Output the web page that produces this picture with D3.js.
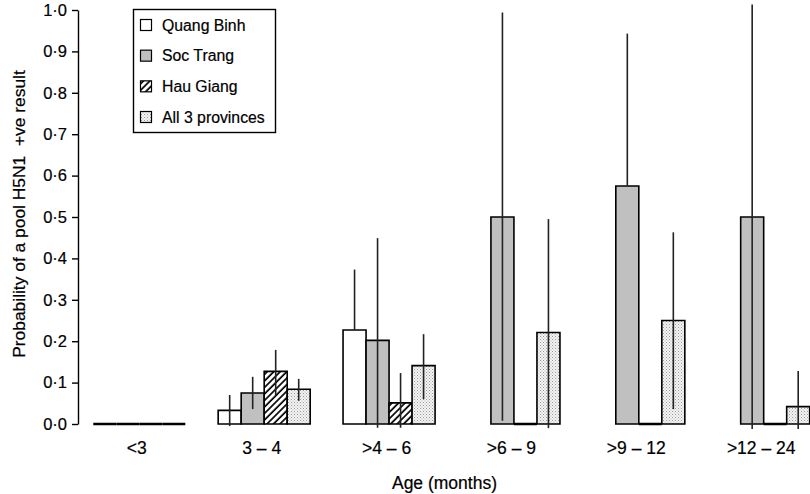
<!DOCTYPE html>
<html>
<head>
<meta charset="utf-8">
<script src="https://cdn.jsdelivr.net/npm/d3@7"></script>
<style>
  html, body { margin: 0; padding: 0; background: #fff; }
  svg { display: block; font-family: "Liberation Sans", Arial, Helvetica, sans-serif; }
  svg text { stroke: #000; stroke-width: 0.2px; }
</style>
</head>
<body>
<svg id="chart" width="810" height="494"></svg>
<script>
// ---- data ----
const categories = ["<3", "3 – 4", ">4 – 6", ">6 – 9", ">9 – 12", ">12 – 24"];
const seriesNames = ["Quang Binh", "Soc Trang", "Hau Giang", "All 3 provinces"];

const quangBinh      = [0, 0.033, 0.227, null, null, null];
const quangBinhLow   = [null, -0.005, 0.227, null, null, null];
const quangBinhHigh  = [null, 0.070, 0.373, null, null, null];

const socTrang       = [0, 0.075, 0.202, 0.500, 0.575, 0.500];
const socTrangLow    = [null, 0.036, -0.009, 0.008, 0.575, -0.012];
const socTrangHigh   = [null, 0.114, 0.449, 0.994, 0.943, 1.013];

const hauGiang       = [0, 0.127, 0.051, 0, 0, 0];
const hauGiangLow    = [null, 0.070, -0.009, null, null, null];
const hauGiangHigh   = [null, 0.179, 0.123, null, null, null];

const allProvinces     = [0, 0.084, 0.141, 0.221, 0.250, 0.042];
const allProvincesLow  = [null, 0.056, 0.060, -0.010, 0.036, -0.012];
const allProvincesHigh = [null, 0.109, 0.217, 0.495, 0.463, 0.128];

const yTicks = [0, 0.1, 0.2, 0.3, 0.4, 0.5, 0.6, 0.7, 0.8, 0.9, 1.0];
const yTitle = "Probability of a pool H5N1  +ve result";
const xTitle = "Age (months)";

// ---- build ----
const values = [quangBinh, socTrang, hauGiang, allProvinces];
const lows   = [quangBinhLow, socTrangLow, hauGiangLow, allProvincesLow];
const highs  = [quangBinhHigh, socTrangHigh, hauGiangHigh, allProvincesHigh];
const fills  = ["#ffffff", "#c0c0c0", "url(#hatch)", "url(#stipple)"];

const svg = d3.select("#chart");
const defs = svg.append("defs");

const hatch = defs.append("pattern").attr("id", "hatch")
  .attr("patternUnits", "userSpaceOnUse").attr("width", 4.6).attr("height", 4.6)
  .attr("patternTransform", "rotate(45)");
hatch.append("rect").attr("width", 4.6).attr("height", 4.6).attr("fill", "#fff");
hatch.append("line").attr("x1", 1).attr("x2", 1).attr("y1", 0).attr("y2", 4.6)
  .attr("stroke", "#000").attr("stroke-width", 1.7);

const stip = defs.append("pattern").attr("id", "stipple")
  .attr("patternUnits", "userSpaceOnUse").attr("width", 3).attr("height", 3);
stip.append("rect").attr("width", 3).attr("height", 3).attr("fill", "#f4f4f4");
stip.append("rect").attr("x", 0).attr("y", 0).attr("width", 1).attr("height", 1).attr("fill", "#9a9a9a");
stip.append("rect").attr("x", 1.5).attr("y", 1.5).attr("width", 1).attr("height", 1).attr("fill", "#b0b0b0");

const x = d3.scaleBand().domain(categories).range([93.3, 809.7]).paddingInner(0.263).paddingOuter(0);
const xs = d3.scaleBand().domain(seriesNames).range([0, x.bandwidth()]).padding(0);
const y = d3.scaleLinear().domain([0, 1]).range([424, 10]);

// bars
const rows = [];
categories.forEach((c, ci) => {
  seriesNames.forEach((s, si) => {
    const v = values[si][ci];
    if (v === null || v === undefined) return;
    rows.push({ c, s, si, v, lo: lows[si][ci], hi: highs[si][ci] });
  });
});

const barG = svg.append("g");
barG.selectAll("path.bar").data(rows).join("path")
  .attr("class", "bar")
  .attr("d", d => {
    const x0 = x(d.c) + xs(d.s), x1 = x0 + xs.bandwidth();
    const y0 = y(0), y1 = y(d.v);
    return `M${x0},${y0}V${y1}H${x1}V${y0}Z`;
  })
  .attr("fill", d => fills[d.si])
  .attr("stroke", "#000")
  .attr("stroke-width", d => d.v === 0 ? 2.3 : 1.6)
  .attr("stroke-linejoin", "miter");

// error bars
svg.append("g").selectAll("line.err").data(rows.filter(d => d.lo !== null && d.hi !== null)).join("line")
  .attr("class", "err")
  .attr("x1", d => x(d.c) + xs(d.s) + xs.bandwidth() / 2)
  .attr("x2", d => x(d.c) + xs(d.s) + xs.bandwidth() / 2)
  .attr("y1", d => y(d.lo))
  .attr("y2", d => y(d.hi))
  .attr("stroke", "#222")
  .attr("stroke-width", 1.6);

// y axis
const yAxis = d3.axisLeft(y).tickValues(yTicks).tickSize(6).tickSizeOuter(0).tickPadding(5)
  .tickFormat(d => d.toFixed(1).replace(".", "·"));
const ya = svg.append("g").attr("transform", "translate(78,0)").call(yAxis);
ya.select(".domain").attr("stroke", "#000").attr("stroke-width", 1.4);
ya.selectAll(".tick line").attr("stroke", "#000").attr("stroke-width", 1.4);
ya.selectAll(".tick text").attr("font-size", 16.5).attr("fill", "#000")
  .attr("font-family", "Liberation Sans, Arial, sans-serif");

// x labels
svg.append("g").selectAll("text.xl").data(categories).join("text")
  .attr("class", "xl")
  .attr("x", d => x(d) + x.bandwidth() / 2 - 2.5)
  .attr("y", 454)
  .attr("text-anchor", "middle")
  .attr("font-size", 17.5)
  .attr("fill", "#000")
  .text(d => d);

// axis titles
svg.append("text")
  .attr("x", 444.5).attr("y", 489)
  .attr("text-anchor", "middle").attr("font-size", 17.5).attr("fill", "#000")
  .text(xTitle);

svg.append("text")
  .attr("transform", "translate(25,214) rotate(-90)")
  .attr("text-anchor", "middle").attr("font-size", 17.4).attr("fill", "#000")
  .style("white-space", "pre")
  .attr("xml:space", "preserve")
  .text(yTitle);

// legend
const lg = svg.append("g");
lg.append("rect").attr("x", 133.5).attr("y", 9.5).attr("width", 142).attr("height", 123)
  .attr("fill", "#fff").attr("stroke", "#000").attr("stroke-width", 1.4);
const legendY = d3.scalePoint().domain(seriesNames).range([25, 117]);
const li = lg.selectAll("g.li").data(seriesNames).join("g").attr("class", "li")
  .attr("transform", d => `translate(0,${legendY(d)})`);
li.append("rect").attr("x", 140.5).attr("y", -5.5).attr("width", 11).attr("height", 11)
  .attr("fill", (d, i) => fills[i]).attr("stroke", "#000").attr("stroke-width", 1.2);
li.append("text").attr("x", 162).attr("y", 5.8).attr("font-size", 15.8).attr("fill", "#000")
  .text(d => d);
</script>
</body>
</html>
